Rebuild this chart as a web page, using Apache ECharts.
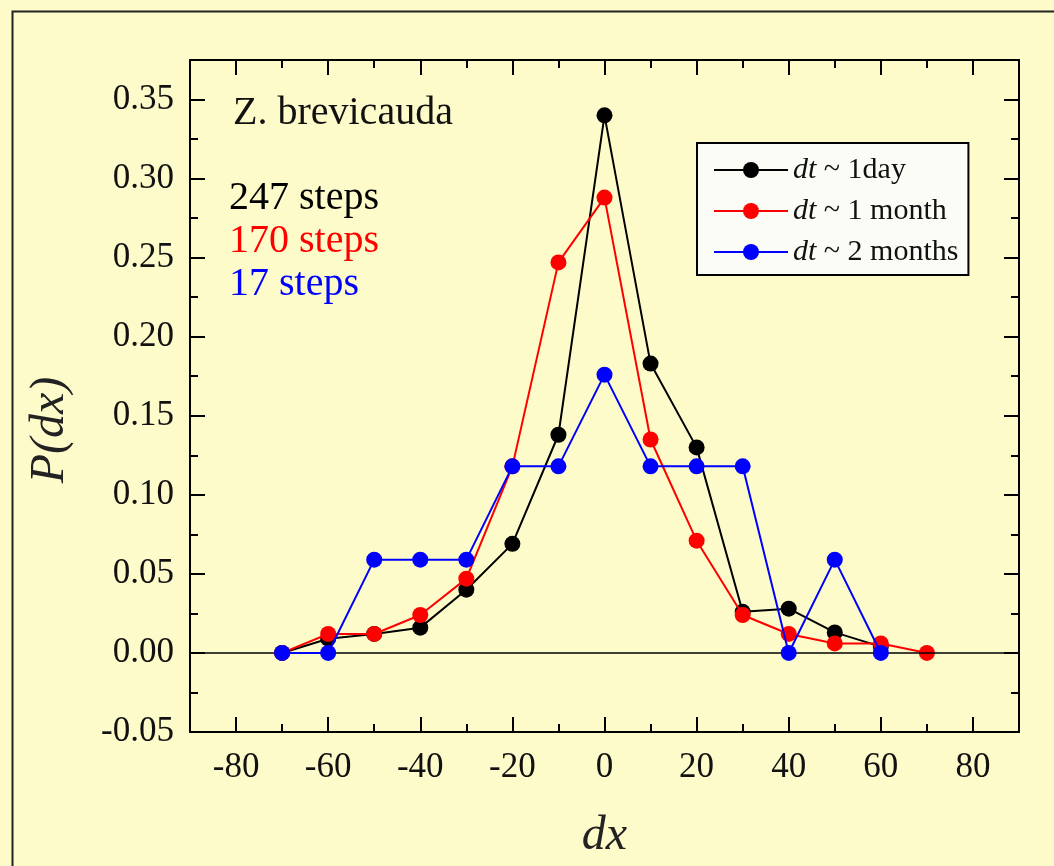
<!DOCTYPE html>
<html>
<head>
<meta charset="utf-8">
<script src="https://cdn.jsdelivr.net/npm/echarts@6/dist/echarts.min.js"></script>
<style>
  html, body { margin: 0; padding: 0; background: #FDFBC9; }
  #chart { width: 1054px; height: 866px; }
</style>
</head>
<body>
<div id="chart"></div>
<script>
// Step-length distribution P(dx) for Z. brevicauda at three sampling intervals
const dxValues = [-70, -60, -50, -40, -30, -20, -10, 0, 10, 20, 30, 40, 50, 60, 70];
const pOneDay = [0, 0.009, 0.012, 0.016, 0.040, 0.069, 0.138, 0.340, 0.183, 0.130, 0.026, 0.028, 0.013, 0.004, null];
const pOneMonth = [0, 0.012, 0.012, 0.024, 0.047, 0.118, 0.247, 0.288, 0.135, 0.071, 0.024, 0.012, 0.006, 0.006, 0];
const pTwoMonths = [0, 0, 0.059, 0.059, 0.059, 0.118, 0.118, 0.176, 0.118, 0.118, 0.118, 0, 0.059, 0, null];

const seriesNames = ['dt ~ 1day', 'dt ~ 1 month', 'dt ~ 2 months'];
const seriesColors = ['#000000', '#FF0000', '#0000FF'];
const stepCounts = ['247 steps', '170 steps', '17 steps'];
const speciesLabel = 'Z. brevicauda';
const xTitle = 'dx';
const yTitle = 'P(dx)';

const xMajorTicks = [-80, -60, -40, -20, 0, 20, 40, 60, 80];
const xMinorTicks = [-70, -50, -30, -10, 10, 30, 50, 70];
const yMajorTicks = [-0.05, 0, 0.05, 0.10, 0.15, 0.20, 0.25, 0.30, 0.35];
const yMinorTicks = [-0.025, 0.025, 0.075, 0.125, 0.175, 0.225, 0.275, 0.325];

const serif = '"Liberation Serif", "DejaVu Serif", serif';
const toPairs = vals => dxValues.map((x, i) => [x, vals[i]]).filter(p => p[1] !== null);

function makeAxis(dim, position, major, ticks, withLabels) {
  const isX = dim === 'x';
  const axis = {
    type: 'value',
    position: position,
    min: isX ? -90 : -0.05,
    max: isX ? 90 : 0.375,
    splitLine: { show: false },
    axisLine: { show: major, onZero: false, lineStyle: { color: '#000', width: 2 } },
    axisTick: {
      show: true, inside: true,
      length: major ? 15 : 8,
      customValues: ticks,
      lineStyle: { color: '#000', width: 2 }
    },
    axisLabel: { show: false }
  };
  if (withLabels) {
    axis.axisLabel = {
      show: true,
      customValues: ticks,
      color: '#111',
      fontFamily: serif,
      fontSize: 35,
      margin: isX ? 18 : 16,
      formatter: v => isX ? String(Math.round(v)) : v.toFixed(2)
    };
  }
  return axis;
}

const xAxes = [
  makeAxis('x', 'bottom', true, xMajorTicks, true),
  makeAxis('x', 'bottom', false, xMinorTicks, false),
  makeAxis('x', 'top', true, xMajorTicks, false),
  makeAxis('x', 'top', false, xMinorTicks, false)
];
Object.assign(xAxes[0], {
  name: xTitle, nameLocation: 'middle', nameGap: 80,
  nameTextStyle: { fontFamily: serif, fontStyle: 'italic', fontSize: 48, color: '#222' }
});

const yAxes = [
  makeAxis('y', 'left', true, yMajorTicks, true),
  makeAxis('y', 'left', false, yMinorTicks, false),
  makeAxis('y', 'right', true, yMajorTicks, false),
  makeAxis('y', 'right', false, yMinorTicks, false)
];

const valueSets = [pOneDay, pOneMonth, pTwoMonths];
const series = valueSets.map((vals, i) => ({
  name: seriesNames[i],
  type: 'line',
  xAxisIndex: 0,
  yAxisIndex: 0,
  data: toPairs(vals),
  symbol: 'circle',
  symbolSize: 16,
  color: seriesColors[i],
  lineStyle: { color: seriesColors[i], width: 2 },
  itemStyle: { color: seriesColors[i] },
  animation: false,
  z: 3 + i
}));
// Reference line at P = 0
series[0].markLine = {
  silent: true,
  symbol: 'none',
  label: { show: false },
  lineStyle: { color: '#000', width: 1.5, type: 'solid' },
  data: [{ yAxis: 0 }]
};

const annotations = [
  { type: 'text', left: 233, top: 93, style: { text: speciesLabel, fill: '#111', font: '40px ' + serif } },
  ...stepCounts.map((t, i) => ({
    type: 'text', left: 229, top: 178 + i * 43,
    style: { text: t, fill: seriesColors[i], font: '40px ' + serif }
  })),
  // Vertical axis title
  { type: 'text', x: 50, y: 430, rotation: Math.PI / 2,
    style: { text: yTitle, fill: '#222', font: 'italic 48px ' + serif, align: 'center', verticalAlign: 'middle' } },
  // Outer frame
  { type: 'rect', left: 10, top: 9, shape: { x: 0, y: 0, width: 1100, height: 950 },
    style: { fill: 'none', stroke: '#222', lineWidth: 2 }, silent: true }
];

const chart = echarts.init(document.getElementById('chart'), null, { renderer: 'canvas' });
chart.setOption({
  backgroundColor: '#FDFBC9',
  animation: false,
  grid: { left: 190, top: 60, right: 35, bottom: 134, containLabel: false },
  xAxis: xAxes,
  yAxis: yAxes,
  legend: {
    orient: 'vertical',
    left: 697, top: 143,
    backgroundColor: '#FCFCF6',
    borderColor: '#000',
    borderWidth: 2,
    borderRadius: 0,
    padding: [12, 10, 8, 16],
    itemWidth: 74,
    itemHeight: 20,
    itemGap: 11,
    data: seriesNames,
    formatter: name => name.replace(/^dt/, '{i|dt}'),
    textStyle: {
      fontFamily: serif, fontSize: 30, color: '#111',
      rich: { i: { fontFamily: serif, fontSize: 30, fontStyle: 'italic', color: '#111' } }
    }
  },
  graphic: annotations,
  series: series
});
</script>
</body>
</html>
